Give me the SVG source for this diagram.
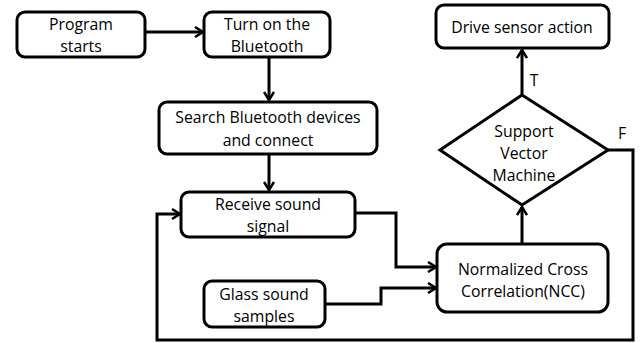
<svg xmlns="http://www.w3.org/2000/svg" width="643" height="343" viewBox="0 0 643 343">
  <style>
    .box { fill: #fff; stroke: #000; stroke-width: 3; }
    .lbl { font-family: "Open Sans", "Liberation Sans", sans-serif; font-size: 15.8px; fill: #000; text-anchor: middle; }
    .edge { fill: none; stroke: #000; stroke-width: 3; marker-end: url(#arrow); }
  </style>
  <defs>
    <marker id="arrow" viewBox="0 0 12 12" refX="10" refY="6" markerWidth="12" markerHeight="12" markerUnits="userSpaceOnUse" orient="auto">
      <path d="M2,1 L10,6 L2,11" fill="none" stroke="#000" stroke-width="2.5"/>
    </marker>
  </defs>

  <rect width="643" height="343" fill="#fff"/>

  <g id="connectors">
    <path class="edge" d="M145,32 H203"/>
    <path class="edge" d="M269,57 V100"/>
    <path class="edge" d="M269,154 V190"/>
    <path class="edge" d="M355,213 H396 V267 H436"/>
    <path class="edge" d="M325,304 H381 V288 H436"/>
    <path class="edge" d="M522,244 V207"/>
    <path class="edge" d="M522,95 V50"/>
    <path class="edge" d="M608,150 H633 V340 H157 V214 H180"/>
  </g>

  <g id="program-starts">
    <rect class="box" x="17" y="12" width="128" height="45" rx="8"/>
    <text class="lbl" x="81" y="30">Program</text>
    <text class="lbl" x="81" y="52">starts</text>
  </g>

  <g id="turn-on-bluetooth">
    <rect class="box" x="204" y="12" width="126" height="45" rx="8"/>
    <text class="lbl" x="267" y="30">Turn on the</text>
    <text class="lbl" x="267" y="52">Bluetooth</text>
  </g>

  <g id="search-connect">
    <rect class="box" x="159" y="102" width="218" height="52" rx="8"/>
    <text class="lbl" x="268" y="123">Search Bluetooth devices</text>
    <text class="lbl" x="268" y="146">and connect</text>
  </g>

  <g id="receive-signal">
    <rect class="box" x="181" y="192" width="174" height="45" rx="8"/>
    <text class="lbl" x="268" y="210">Receive sound</text>
    <text class="lbl" x="268" y="232">signal</text>
  </g>

  <g id="glass-samples">
    <rect class="box" x="204" y="281" width="121" height="46" rx="8"/>
    <text class="lbl" x="264" y="300">Glass sound</text>
    <text class="lbl" x="264" y="322">samples</text>
  </g>

  <g id="ncc">
    <rect class="box" x="437" y="244" width="171" height="68" rx="10"/>
    <text class="lbl" x="523" y="275">Normalized Cross</text>
    <text class="lbl" x="523" y="297">Correlation(NCC)</text>
  </g>

  <g id="svm">
    <polygon class="box" points="522,95 608,150 522,205 440,150"/>
    <text class="lbl" x="524" y="137">Support</text>
    <text class="lbl" x="524" y="159">Vector</text>
    <text class="lbl" x="524" y="181">Machine</text>
  </g>

  <g id="drive-action">
    <rect class="box" x="436" y="5" width="173" height="43" rx="8"/>
    <text class="lbl" x="522" y="33">Drive sensor action</text>
  </g>

  <g id="branch-labels">
    <text class="lbl" x="534" y="86">T</text>
    <text class="lbl" x="622" y="139">F</text>
  </g>
</svg>
